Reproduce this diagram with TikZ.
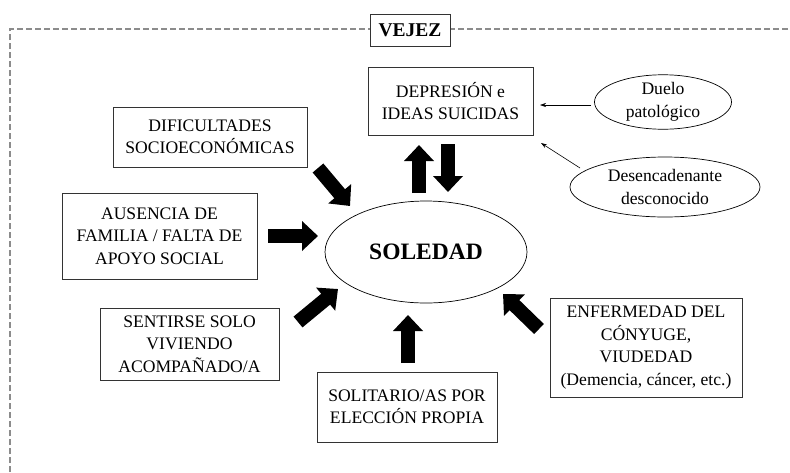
\documentclass[tikz,border=0pt]{standalone}
\usepackage{fontspec}
\setmainfont{Liberation Serif}
\usetikzlibrary{arrows.meta,shapes.geometric}
\begin{document}
\begin{tikzpicture}[x=1pt,y=-1pt,
  txt/.style={font=\fontsize{17.6}{22.5}\selectfont, align=center, inner sep=0pt},
  boxn/.style={txt, draw=black!80, line width=0.8pt},
  ell/.style={txt, draw=black, ellipse, line width=0.7pt},
  block/.style={line width=14pt, -{Triangle[width=29pt,length=16pt]}},
  thin/.style={line width=0.6pt, -{Stealth[length=6pt,width=4pt]}},
  frame/.style={draw=black!45, line width=1.4pt, dash pattern=on 6pt off 3pt}
]
\useasboundingbox (0,0) rectangle (790,472);
\fill[white] (0,0) rectangle (790,472);
% frame
\draw[frame] (10,472) -- (10,29) -- (790,29);
\node[boxn, fill=white, minimum width=80pt, minimum height=32pt, font=\fontsize{19.5}{22}\selectfont\bfseries] (vejez) at (410,30) {VEJEZ};

% nodes
\node[boxn, minimum width=165pt, minimum height=68pt] (dep) at (450.5,101) {DEPRESIÓN e\\IDEAS SUICIDAS};
\node[ell, minimum width=137pt, minimum height=54pt] (duelo) at (663,102) {Duelo\\patológico};
\node[ell, minimum width=190pt, minimum height=60pt] (desc) at (665,187) {Desencadenante\\desconocido};
\node[boxn, minimum width=194pt, minimum height=60pt] (dif) at (210,137) {DIFICULTADES\\SOCIOECONÓMICAS};
\node[boxn, minimum width=195pt, minimum height=86pt] (aus) at (159.5,236) {AUSENCIA DE\\FAMILIA / FALTA DE\\APOYO SOCIAL};
\node[ell, minimum width=202pt, minimum height=102pt, font=\fontsize{23.5}{26}\selectfont\bfseries] (sol) at (426,252) {SOLEDAD};
\node[boxn, minimum width=179pt, minimum height=72pt] (sent) at (189.5,344) {SENTIRSE SOLO\\VIVIENDO\\ACOMPAÑADO/A};
\node[boxn, minimum width=180pt, minimum height=70pt] (solit) at (407,407) {SOLITARIO/AS POR\\ELECCIÓN PROPIA};
\node[boxn, minimum width=192pt, minimum height=99pt] (enf) at (646,347.5) {ENFERMEDAD DEL\\CÓNYUGE,\\VIUDEDAD\\(Demencia, cáncer, etc.)};

% block arrow end points
\coordinate (a1s) at (318,168); \coordinate (a1e) at (350,206);
\coordinate (a2s) at (268,236); \coordinate (a2e) at (318,236);
\coordinate (a3s) at (298,322); \coordinate (a3e) at (338,289);
\coordinate (a4s) at (408,363); \coordinate (a4e) at (408,315);
\coordinate (a5s) at (539,329); \coordinate (a5e) at (503,294);
\coordinate (a6s) at (419,193); \coordinate (a6e) at (419,145);
\coordinate (a7s) at (448,144); \coordinate (a7e) at (448,192);

\draw[block] (a1s) -- (a1e);
\draw[block] (a2s) -- (a2e);
\draw[block] (a3s) -- (a3e);
\draw[block] (a4s) -- (a4e);
\draw[block] (a5s) -- (a5e);
\draw[block] (a6s) -- (a6e);
\draw[block] (a7s) -- (a7e);

% thin arrows
\coordinate (t1e) at (540,105);
\coordinate (t2s) at (580,168); \coordinate (t2e) at (541,143);
\draw[thin] (duelo.west) ++(-3,3) -- (t1e);
\draw[thin] (t2s) -- (t2e);
\end{tikzpicture}
\end{document}
